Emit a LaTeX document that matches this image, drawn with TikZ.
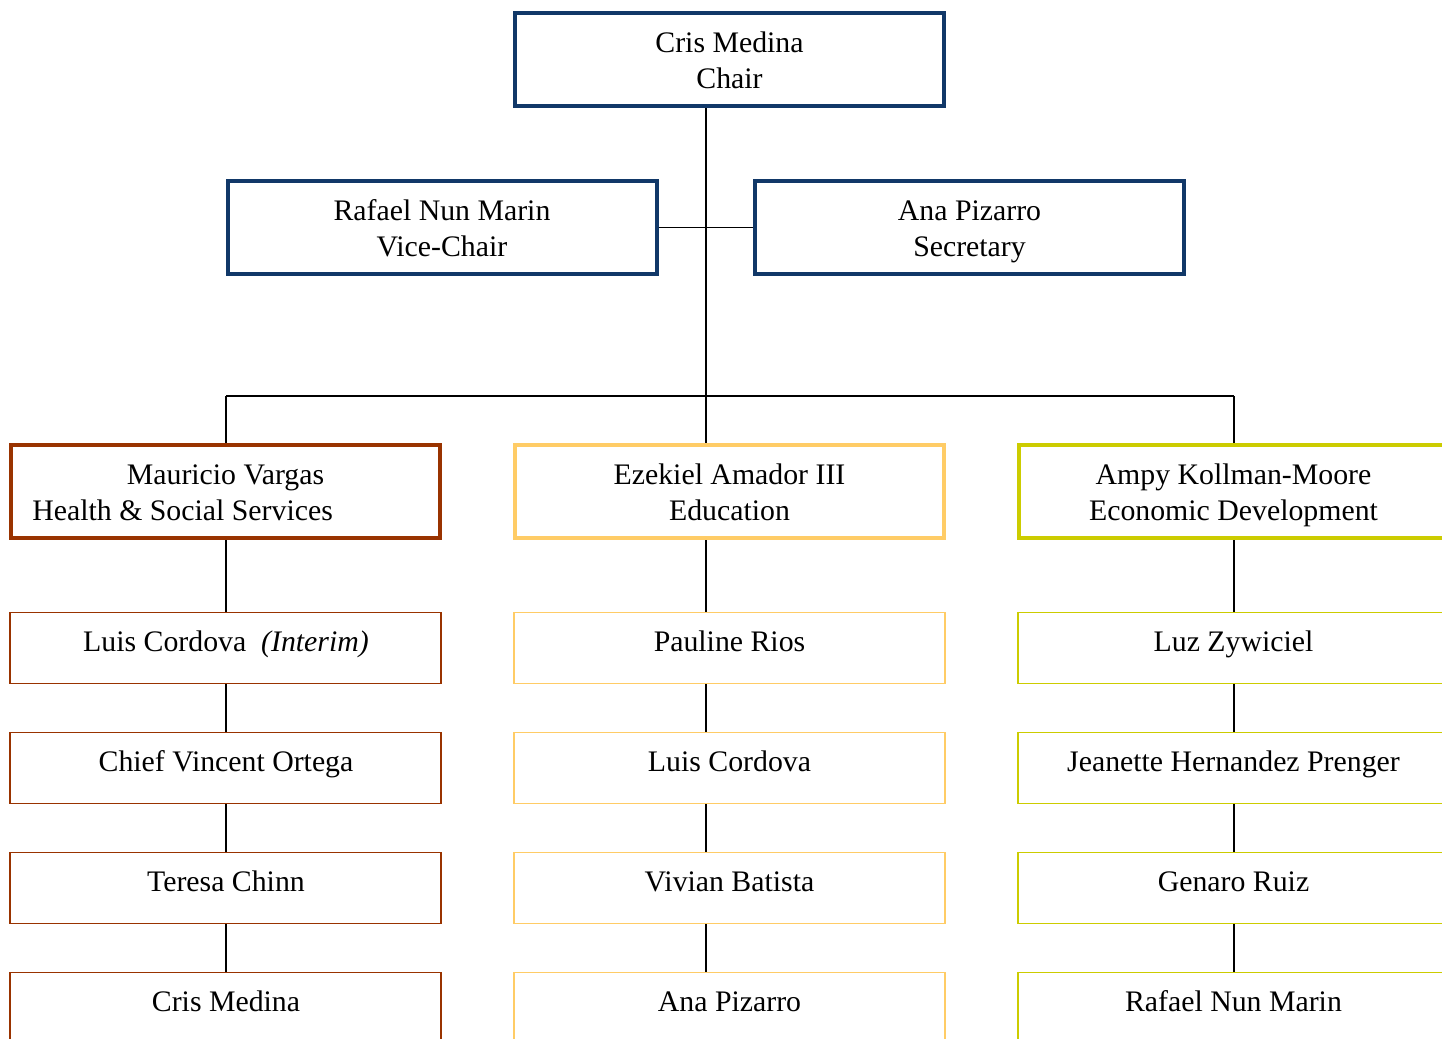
\documentclass[tikz,border=0pt]{standalone}
\usepackage{fontspec}
\setmainfont{Liberation Serif}
\definecolor{navyc}{RGB}{17,56,104}
\definecolor{rustc}{RGB}{153,51,0}
\definecolor{goldc}{RGB}{255,204,102}
\definecolor{olivec}{RGB}{204,204,0}
\begin{document}
\begin{tikzpicture}[x=0.5pt,y=-0.5pt,
  bigbox/.style={draw, rectangle, line width=2pt, minimum width=214.5pt, minimum height=46.5pt, inner sep=0pt},
  subbox/.style={draw, rectangle, line width=0.8pt, minimum width=215.75pt, minimum height=35.5pt, inner sep=0pt},
  txt/.style={anchor=base, inner sep=0pt, font=\fontsize{14.9pt}{18pt}\selectfont},
  link/.style={draw=black, line width=0.8pt}]
\useasboundingbox (0,0) rectangle (1442,1039);
\clip (0,0) rectangle (1442,1039);

% top level boxes
\node[bigbox, draw=navyc] (chair) at (729.5,59.5) {};
\node[bigbox, draw=navyc] (vice) at (442,227.5) {};
\node[bigbox, draw=navyc] (sec) at (969.5,227.5) {};
\node[txt] (chairA) at (729.5,52) {Cris Medina};
\node[txt] (chairB) at (729.5,88) {Chair};
\node[txt] (viceA) at (442,220) {Rafael Nun Marin};
\node[txt] (viceB) at (442,256) {Vice-Chair};
\node[txt] (secA) at (969.5,220) {Ana Pizarro};
\node[txt] (secB) at (969.5,256) {Secretary};

% heads
\node[bigbox, draw=rustc] (hss) at (225.5,491.5) {};
\node[bigbox, draw=goldc] (edu) at (729.5,491.5) {};
\node[bigbox, draw=olivec] (eco) at (1233.5,491.5) {};
\node[txt] (hssA) at (225.5,484) {Mauricio Vargas};
\node[txt, anchor=base west] (hssB) at (32,520) {Health \& Social Services};
\node[txt] (eduA) at (729.5,484) {Ezekiel Amador III};
\node[txt] (eduB) at (729.5,520) {Education};
\node[txt] (ecoA) at (1233.5,484) {Ampy Kollman-Moore};
\node[txt] (ecoB) at (1233.5,520) {Economic Development};

% sub boxes
\foreach \c/\x/\col in {a/225.5/rustc, b/729.5/goldc, c/1233.5/olivec}{
  \foreach \r/\y in {1/648, 2/768, 3/888, 4/1008}{
    \node[subbox, draw=\col] (s\c\r) at (\x,\y) {};
  }
}
\node[txt] (ta1) at (226,651) {Luis Cordova\ \ \textit{(Interim)}};
\node[txt] (ta2) at (226,771) {Chief Vincent Ortega};
\node[txt] (ta3) at (226,891) {Teresa Chinn};
\node[txt] (ta4) at (226,1011) {Cris Medina};
\node[txt] (tb1) at (729.5,651) {Pauline Rios};
\node[txt] (tb2) at (729.5,771) {Luis Cordova};
\node[txt] (tb3) at (729.5,891) {Vivian Batista};
\node[txt] (tb4) at (729.5,1011) {Ana Pizarro};
\node[txt] (tc1) at (1233.5,651) {Luz Zywiciel};
\node[txt] (tc2) at (1233.5,771) {Jeanette Hernandez Prenger};
\node[txt] (tc3) at (1233.5,891) {Genaro Ruiz};
\node[txt] (tc4) at (1233.5,1011) {Rafael Nun Marin};

% connectors
\coordinate (spine) at (706,396);
\coordinate (busL) at (226,396);
\coordinate (busR) at (1234,396);
\draw[link] (chair.south -| spine) -- (spine);
\draw[link] (vice.east) -- (sec.west);
\draw[link] (busL) -- (busR);
\draw[link] (busL) -- (hss.north -| busL);
\draw[link] (spine) -- (edu.north -| spine);
\draw[link] (busR) -- (eco.north -| busR);

\draw[link] (hss.south -| busL) -- (sa1.north -| busL);
\draw[link] (sa1.south -| busL) -- (sa2.north -| busL);
\draw[link] (sa2.south -| busL) -- (sa3.north -| busL);
\draw[link] (sa3.south -| busL) -- (sa4.north -| busL);

\draw[link] (edu.south -| spine) -- (sb1.north -| spine);
\draw[link] (sb1.south -| spine) -- (sb2.north -| spine);
\draw[link] (sb2.south -| spine) -- (sb3.north -| spine);
\draw[link] (sb3.south -| spine) -- (sb4.north -| spine);

\draw[link] (eco.south -| busR) -- (sc1.north -| busR);
\draw[link] (sc1.south -| busR) -- (sc2.north -| busR);
\draw[link] (sc2.south -| busR) -- (sc3.north -| busR);
\draw[link] (sc3.south -| busR) -- (sc4.north -| busR);
\end{tikzpicture}
\end{document}
